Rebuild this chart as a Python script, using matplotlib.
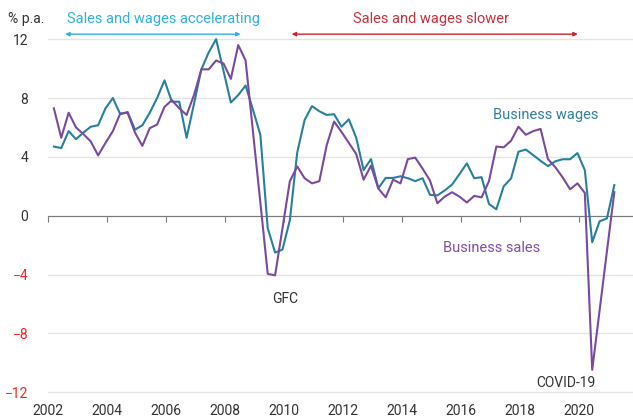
import numpy as np
import pandas as pd
from matplotlib import pyplot as plt

plt.rcParams['font.family'] = ['Roboto', 'DejaVu Sans']

# Quarterly year-ended growth, % p.a. (March 2002 to March 2021)
quarters = pd.period_range('2002Q1', '2021Q1', freq='Q')
sales = [7.3, 5.3, 7.0, 6.0, 5.55, 5.05, 4.1, 4.95, 5.75, 6.95, 7.0, 5.65, 4.75, 5.95, 6.2, 7.4,
         7.85, 7.3, 6.85, 8.2, 9.95, 9.95, 10.55, 10.35, 9.3, 11.6, 10.55, 5.7, 0.9, -3.95, -4.05, -0.85,
         2.35, 3.35, 2.55, 2.2, 2.35, 4.8, 6.4, 5.7, 4.95, 4.2, 2.45, 3.4, 1.85, 1.25, 2.45, 2.2,
         3.85, 3.95, 3.2, 2.4, 0.85, 1.3, 1.6, 1.3, 0.9, 1.35, 1.25, 2.35, 4.7, 4.65, 5.1, 6.05,
         5.5, 5.75, 5.9, 3.85, 3.3, 2.6, 1.8, 2.2, 1.55, -10.47, -6.45, -2.4, 1.6]
wages = [4.7, 4.6, 5.75, 5.2, 5.65, 6.05, 6.15, 7.3, 8.0, 6.9, 7.05, 5.85, 6.15, 7.0, 8.0, 9.2,
         7.75, 7.75, 5.3, 7.6, 9.95, 11.1, 12.0, 9.85, 7.7, 8.2, 8.85, 7.2, 5.5, -0.85, -2.5, -2.3,
         -0.3, 4.3, 6.5, 7.45, 7.1, 6.85, 6.9, 6.05, 6.55, 5.3, 3.1, 3.85, 1.87, 2.57, 2.57, 2.68,
         2.55, 2.35, 2.55, 1.42, 1.38, 1.72, 2.12, 2.83, 3.56, 2.55, 2.62, 0.8, 0.44, 2.0, 2.54, 4.35,
         4.5, 4.12, 3.73, 3.37, 3.7, 3.84, 3.84, 4.26, 3.1, -1.8, -0.38, -0.18, 2.08]
year_ticks = list(range(2002, 2021, 2))
y_ticks = [-12, -8, -4, 0, 4, 8, 12]

# decimal year, middle of the last month of each quarter
x = np.array([q.year + (q.quarter * 3 - 0.5) / 12 for q in quarters])

teal = '#27809c'
purple = '#7a4aa0'
cyan = '#2eb2e0'
red = '#c8323c'
dark = '#333333'

fig = plt.figure(figsize=(6.33, 4.19), dpi=100)
ax = fig.add_axes([0.0754, 0.0461, 0.925, 0.878])

ax.plot(x, wages, color=teal, lw=1.5, zorder=3)
ax.plot(x, sales, color=purple, lw=1.5, zorder=3)

ax.set_xlim(2002, 2021.85)
ax.set_ylim(-12.5, 12.5)
ax.set_yticks(y_ticks)
ax.grid(axis='y', color='#e4e4e4', lw=1)
ax.set_axisbelow(True)

for s in ['top', 'right', 'left']:
    ax.spines[s].set_visible(False)
ax.spines['bottom'].set_position(('data', 0))
ax.spines['bottom'].set_color('#7a7a7a')
ax.spines['bottom'].set_zorder(2)
ax.set_xticks(year_ticks)
ax.tick_params(axis='x', direction='out', length=4, color='#7a7a7a', labelbottom=False)
ax.tick_params(axis='y', length=0, pad=14, labelsize=10, labelcolor=dark)
for lab, v in zip(ax.get_yticklabels(), y_ticks):
    if v < 0:
        lab.set_color('#ff2020')

secax = ax.secondary_xaxis('bottom')
secax.set_xticks(year_ticks)
secax.tick_params(length=0, pad=3, labelsize=10, labelcolor=dark)
secax.spines['bottom'].set_visible(False)

# annotations
ax.text(2000.65, 13.35, '% p.a.', fontsize=10, color=dark, ha='left', va='center', clip_on=False)
ax.annotate('', xy=(2008.54, 12.34), xytext=(2002.59, 12.34),
            arrowprops=dict(arrowstyle='<|-|>', color=cyan, lw=1, mutation_scale=6, shrinkA=0, shrinkB=0),
            annotation_clip=False)
ax.text(2005.94, 13.35, 'Sales and wages accelerating', fontsize=10.5, color=cyan,
        ha='center', va='center', clip_on=False)
ax.annotate('', xy=(2019.97, 12.34), xytext=(2010.27, 12.34),
            arrowprops=dict(arrowstyle='<|-|>', color='#d21f2b', lw=1, mutation_scale=6, shrinkA=0, shrinkB=0),
            annotation_clip=False)
ax.text(2015.0, 13.35, 'Sales and wages slower', fontsize=10.5, color=red,
        ha='center', va='center', clip_on=False)

ax.text(2018.87, 6.84, 'Business wages', fontsize=10.5, color='#33809e', ha='center', va='center')
ax.text(2017.04, -2.19, 'Business sales', fontsize=10.5, color='#8050a6', ha='center', va='center')
ax.text(2010.04, -5.69, 'GFC', fontsize=10, color=dark, ha='center', va='center')
ax.text(2019.56, -11.35, 'COVID-19', fontsize=10, color=dark, ha='center', va='center')

fig.savefig('out.png', dpi=100)
